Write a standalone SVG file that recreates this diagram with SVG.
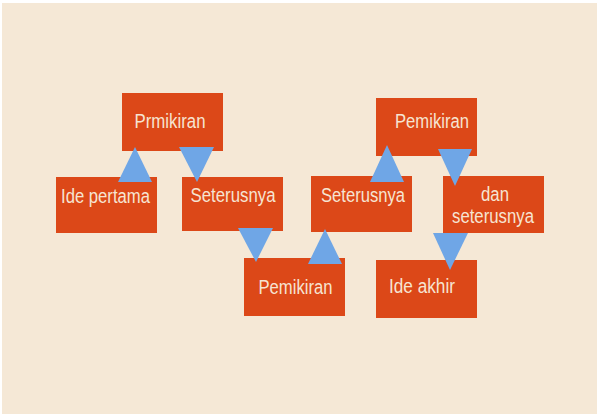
<svg xmlns="http://www.w3.org/2000/svg" width="597" height="414" viewBox="0 0 597 414">
  <style>
    .box { fill: #DC4818; }
    .lbl { font-family: "Liberation Sans", Arial, sans-serif; font-size: 20px; fill: #F6E4D2; text-anchor: middle; }
    .tri { fill: #6FA6E6; }
  </style>
  <rect x="0" y="0" width="597" height="414" fill="#FFFFFF"/>
  <rect x="2" y="3" width="595" height="411" fill="#F5E8D6"/>

  <g id="node-prmikiran">
    <rect class="box" x="122" y="93" width="101" height="58"/>
    <text class="lbl" x="170" y="128" textLength="71" lengthAdjust="spacingAndGlyphs">Prmikiran</text>
  </g>
  <g id="node-ide-pertama">
    <rect class="box" x="56" y="177" width="101" height="56"/>
    <text class="lbl" x="105.5" y="202.5" textLength="89" lengthAdjust="spacingAndGlyphs">Ide pertama</text>
  </g>
  <g id="node-seterusnya-1">
    <rect class="box" x="182" y="177" width="101" height="54"/>
    <text class="lbl" x="233" y="202" textLength="85" lengthAdjust="spacingAndGlyphs">Seterusnya</text>
  </g>
  <g id="node-pemikiran-bawah">
    <rect class="box" x="244" y="258" width="101" height="58"/>
    <text class="lbl" x="295.5" y="294" textLength="74" lengthAdjust="spacingAndGlyphs">Pemikiran</text>
  </g>
  <g id="node-seterusnya-2">
    <rect class="box" x="311" y="176" width="101" height="56"/>
    <text class="lbl" x="363" y="202" textLength="84" lengthAdjust="spacingAndGlyphs">Seterusnya</text>
  </g>
  <g id="node-pemikiran-atas">
    <rect class="box" x="376" y="98" width="101" height="58"/>
    <text class="lbl" x="432" y="128" textLength="74" lengthAdjust="spacingAndGlyphs">Pemikiran</text>
  </g>
  <g id="node-dan-seterusnya">
    <rect class="box" x="443" y="176" width="101" height="57"/>
    <text class="lbl" x="495" y="200.5" textLength="28" lengthAdjust="spacingAndGlyphs">dan</text>
    <text class="lbl" x="493" y="222.5" textLength="82" lengthAdjust="spacingAndGlyphs">seterusnya</text>
  </g>
  <g id="node-ide-akhir">
    <rect class="box" x="376" y="260" width="101" height="58"/>
    <text class="lbl" x="422" y="293" textLength="66" lengthAdjust="spacingAndGlyphs">Ide akhir</text>
  </g>

  <g id="connectors">
    <polygon class="tri" points="135,147 118,182 152,182"/>
    <polygon class="tri" points="179,147 214,147 197,182"/>
    <polygon class="tri" points="238,228 273,228 256,262"/>
    <polygon class="tri" points="325,229 308,264 342,264"/>
    <polygon class="tri" points="387,145 370,182 404,182"/>
    <polygon class="tri" points="438,149 472,149 455,186"/>
    <polygon class="tri" points="433,233 468,233 450,270"/>
  </g>
</svg>
